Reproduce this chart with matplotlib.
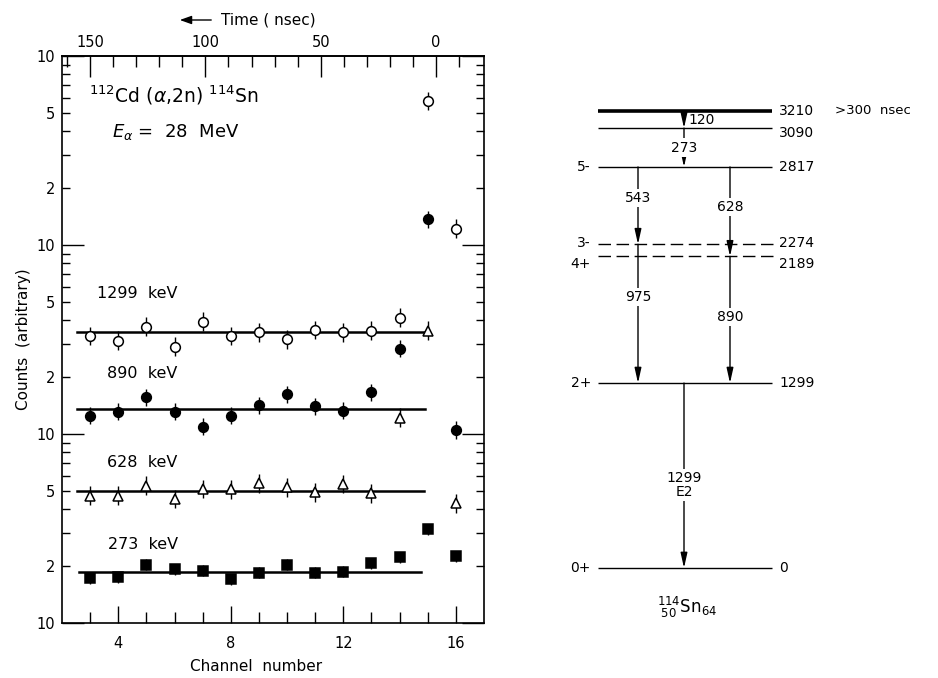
import numpy as np
import matplotlib
matplotlib.use("Agg")
import matplotlib.pyplot as plt
from matplotlib.ticker import FixedLocator, FuncFormatter

plt.rcParams['font.family'] = 'DejaVu Sans'
plt.rcParams['mathtext.fontset'] = 'dejavusans'

# delayed-coincidence counts per channel for each gamma line
channels = np.arange(3, 17)
counts_1299 = [33.0, 31.2, 37.0, 29.0, 39.3, 33.0, 34.5, 31.7, 35.5, 34.5, 35.2, 41.2, 578, 122]
counts_890 = [12.5, 13.1, 15.6, 13.1, 10.9, 12.5, 14.2, 16.2, 14.0, 13.3, 16.6, 28.2, 137, 10.5]
counts_628 = [4.72, 4.72, 5.33, 4.53, 5.12, 5.10, 5.49, 5.22, 4.91, 5.45, 4.86, 12.2, 35.2, 4.30]
counts_273 = [1.72, 1.75, 2.03, 1.92, 1.89, 1.70, 1.85, 2.03, 1.85, 1.87, 2.07, 2.23, 3.13, 2.26]
rel_err = [0.12, 0.11, 0.12, 0.07]
line_names = ["1299  keV", "890  keV", "628  keV", "273  keV"]

# flat fits through the delayed part
fit_level = [34.8, 13.6, 5.01, 1.87]
fit_start = [2.55, 2.55, 2.55, 2.6]
fit_end = [15.0, 14.9, 14.85, 14.75]

# time scale on the top axis
ns_per_channel = 12.19
t0_channel = 15.30
time_ticks = [0, 50, 100, 150]

# 114Sn levels (keV) and gamma transitions
level_energy = [3210, 3090, 2817, 2274, 2189, 1299, 0]
level_spin = ["", "", "5-", "3-", "4+", "2+", "0+"]
gamma_from = [3210, 3090, 2817, 2817, 2274, 2189, 1299]
gamma_to = [3090, 2817, 2274, 2189, 1299, 1299, 0]
gamma_text = ["120", "273", "543", "628", "975", "890", "1299\nE2"]

fig = plt.figure(figsize=(9.38, 6.78), dpi=100)

# ---- decay curves ----
ax = fig.add_axes([62 / 938, 55 / 678, 422 / 938, 567 / 678])
ax.set_yscale('log')
ax.set_xlim(2, 17)
ax.set_ylim(1, 1000)

all_counts = [counts_1299, counts_890, counts_628, counts_273]
styles = [dict(marker='o', mfc='white', ms=7),
          dict(marker='o', mfc='black', ms=7),
          dict(marker='^', mfc='white', ms=7.5),
          dict(marker='s', mfc='black', ms=6.5)]
label_pos = [(3.25, 55.7), (3.6, 21.0), (3.6, 7.1), (3.64, 2.59)]

for counts, err, st, lev, x0, x1, name, lp in zip(all_counts, rel_err, styles, fit_level,
                                                  fit_start, fit_end, line_names, label_pos):
    c = np.array(counts)
    f = 1 + err
    yerr = [c * (1 - 1 / f), c * (f - 1)]
    ax.errorbar(channels, c, yerr=yerr, fmt='none', ecolor='black', elinewidth=1.0, capsize=0, zorder=2)
    ax.plot(channels, c, ls='none', mec='black', mew=1.1, zorder=3, **st)
    ax.plot([x0, x1], [lev, lev], color='black', lw=1.8, zorder=1)
    ax.text(lp[0], lp[1], name, fontsize=11.5, ha='left', va='center')

ax.text(0.065, 0.931, r"$^{112}$Cd ($\alpha$,2n) $^{114}$Sn", transform=ax.transAxes,
        fontsize=13.5, ha='left', va='center')
ax.text(0.119, 0.866, r"$E_{\alpha}$ =  28  MeV", transform=ax.transAxes,
        fontsize=13, ha='left', va='center')

# y axis: decades labelled "10", with 2 and 5 in between
ax.yaxis.set_major_locator(FixedLocator([1, 10, 100, 1000]))
ax.yaxis.set_major_formatter(FuncFormatter(lambda v, p: "10"))
minors = [m * 10 ** d for d in range(3) for m in range(2, 10)]
ax.yaxis.set_minor_locator(FixedLocator(minors))


def minor_label(v, pos):
    m = int(round(v / 10 ** np.floor(np.log10(v) + 1e-9)))
    return str(m) if m in (2, 5) else ""


ax.yaxis.set_minor_formatter(FuncFormatter(minor_label))
ax.tick_params(axis='y', which='major', direction='in', length=16, width=1, labelsize=10.5,
               left=True, right=True, pad=5)
ax.tick_params(axis='y', which='minor', direction='in', length=6, width=1, labelsize=10.5,
               left=True, right=True, pad=5)

ax.xaxis.set_major_locator(FixedLocator([4, 8, 12, 16]))
ax.xaxis.set_minor_locator(FixedLocator(channels))
ax.tick_params(axis='x', which='major', direction='in', length=12, width=1, labelsize=10.5,
               top=False, pad=9)
ax.tick_params(axis='x', which='minor', direction='in', length=8, width=1, top=False)
for s in ax.spines.values():
    s.set_linewidth(1.2)

ax.set_xlabel("Channel  number", fontsize=11)
ax.xaxis.set_label_coords((256 - 62) / 422, -0.063)
ax.set_ylabel("Counts  (arbitrary)", fontsize=11, labelpad=4)


def ch2t(c):
    return (t0_channel - np.asarray(c, dtype=float)) * ns_per_channel


def t2ch(t):
    return t0_channel - np.asarray(t, dtype=float) / ns_per_channel


sec = ax.secondary_xaxis('top', functions=(ch2t, t2ch))
sec.set_xticks(time_ticks)
sec.set_xticklabels([str(t) for t in time_ticks])
sec.xaxis.set_minor_locator(FixedLocator(np.arange(-10, 170, 10)))
sec.tick_params(which='major', direction='in', length=15, width=1, labelsize=10.5, pad=4)
sec.tick_params(which='minor', direction='in', length=8, width=1)
sec.spines['top'].set_linewidth(1.2)

fig.text(221 / 938, 1 - 20 / 678, "Time ( nsec)", fontsize=11, ha='left', va='center')
fig.add_artist(matplotlib.patches.FancyArrowPatch(
    (214 / 938, 1 - 20 / 678), (177 / 938, 1 - 20 / 678), transform=fig.transFigure,
    arrowstyle='-|>,head_length=7,head_width=2.5', color='black', lw=1))

# ---- level scheme ----
lv = fig.add_axes([540 / 938, 0, 398 / 938, 1])
lv.set_xlim(540, 938)
lv.set_ylim(-772.6, 3989.6)
lv.axis('off')

px = 7.024  # keV per pixel
xl, xr = 598, 772
right_shift = [0, -5, 0, 1, -8, 0, 0]
for i, (E, spin) in enumerate(zip(level_energy, level_spin)):
    lw = 2.6 if i == 0 else 1.0
    ls = (0, (9, 4)) if E in (2274, 2189) else '-'
    xe = 776 if ls != '-' else xr
    lv.plot([xl, xe], [E, E], color='black', lw=lw, ls=ls, solid_capstyle='butt')
    lv.text(779, E + right_shift[i] * px, str(E), fontsize=10, ha='left', va='center')
    if spin:
        lv.text(591, E + right_shift[i] * px, spin, fontsize=10, ha='right', va='center')
lv.text(835, level_energy[0], ">300  nsec", fontsize=9.5, ha='left', va='center')

gamma_x = [684, 684, 638, 730, 638, 730, 684]
label_frac = [0.5, 0.5, 0.4, 0.45, 0.38, 0.48, 0.55]
for e_hi, e_lo, txt, x, fr in zip(gamma_from, gamma_to, gamma_text, gamma_x, label_frac):
    lv.annotate("", xy=(x, e_lo), xytext=(x, e_hi),
                arrowprops=dict(arrowstyle='-|>,head_length=0.9,head_width=0.2',
                                color='black', lw=1, shrinkA=0, shrinkB=0))
    ym = e_hi - fr * (e_hi - e_lo)
    if txt == "120":
        lv.text(x + 4, ym, txt, fontsize=10, ha='left', va='center')
    else:
        lv.text(x, ym, txt, fontsize=10, ha='center', va='center', linespacing=1.0,
                bbox=dict(fc='white', ec='none', pad=1.5))

lv.text(687, -274, r"${}^{114}_{\ 50}\mathrm{Sn}_{64}$", fontsize=12, ha='center', va='center')

fig.savefig("out.png", dpi=100)
